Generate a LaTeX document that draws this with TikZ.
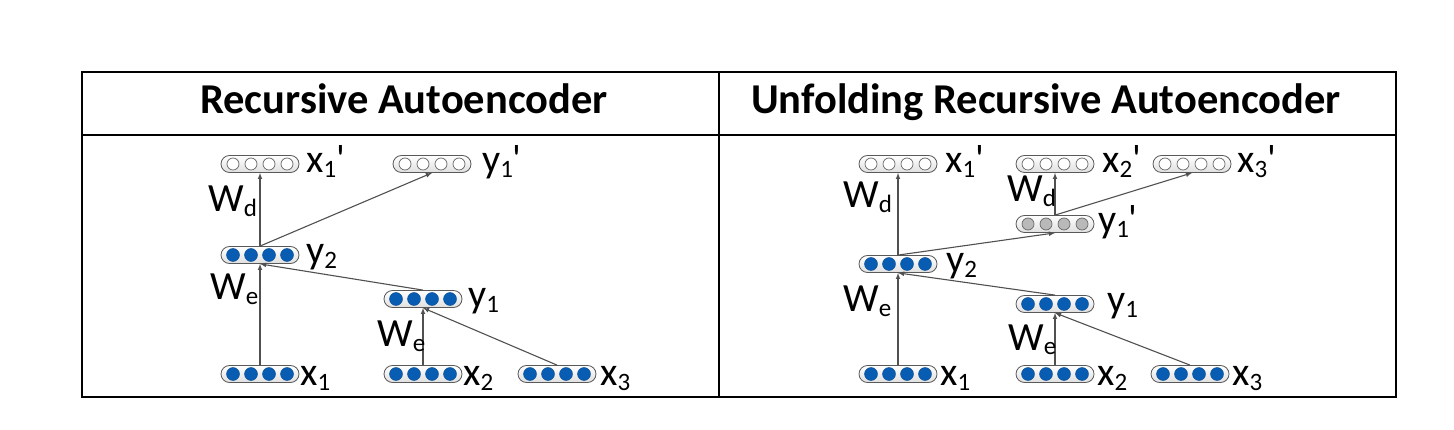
\documentclass[tikz,border=0pt]{standalone}
\usepackage{fontspec}
\setmainfont{Carlito}
\usetikzlibrary{positioning}
\definecolor{unitblue}{RGB}{8,92,178}
\definecolor{linegray}{RGB}{80,80,80}
\newcommand{\lsub}[1]{\raisebox{-5pt}{\fontsize{25}{25}\selectfont #1}}
\newcommand{\layer}[3]{%
  \node[pill] (#1) at (#2) {};
  \foreach \dx in {-27,-9,9,27}
    \node[#3] at ([xshift=\dx pt]#1.center) {};
}

\begin{document}
\begin{tikzpicture}[x=1pt,y=-1pt,>=latex,
    pill/.style={draw=gray!70!black,line width=0.8pt,rounded corners=8.5pt,minimum width=78pt,minimum height=17pt,inner sep=0pt,top color=white,bottom color=gray!25},
    hidden/.style={circle,draw=unitblue!80!black,line width=0.4pt,fill=unitblue,minimum size=13pt,inner sep=0pt},
    outunit/.style={circle,draw=gray!80!black,line width=0.7pt,fill=white,minimum size=12pt,inner sep=0pt},
    midunit/.style={circle,draw=gray!80!black,line width=0.7pt,fill=gray!55,minimum size=12pt,inner sep=0pt},
    lbl/.style={anchor=base west,inner sep=0pt,font=\fontsize{40}{44}\selectfont},
    title/.style={anchor=base,inner sep=0pt,font=\bfseries\fontsize{42.5}{46}\selectfont},
    link/.style={->,draw=linegray,line width=1.1pt}]
    \useasboundingbox (0,0) rectangle (1454,430);
    % table frame
    \draw[line width=1.2pt] (82,72) rectangle (1396,397);
    \draw[line width=1.2pt] (82,135) -- (1396,135);
    \draw[line width=1.2pt] (719,72) -- (719,397);
    \node[title] (rtitle) at (404,114) {Recursive Autoencoder};
    \node[title] (utitle) at (1046,114) {Unfolding Recursive Autoencoder};

    % recursive autoencoder
    \layer{rx1}{260,374}{hidden}
    \layer{rx2}{423,374}{hidden}
    \layer{rx3}{557,374}{hidden}
    \layer{ry1}{423,299}{hidden}
    \layer{ry2}{260,255}{hidden}
    \layer{rx1r}{260,164}{outunit}
    \layer{ry1r}{432,164}{outunit}
    \draw[link] (rx2) -- (ry1);
    \draw[link] (rx3.north) -- (ry1.south);
    \draw[link] (rx1) -- (ry2);
    \draw[link] (ry1.north) -- (ry2.south);
    \draw[link] (ry2) -- (rx1r);
    \draw[link] (ry2.north) -- (ry1r.south);
    \node[lbl] at (300,385) {x\lsub{1}};
    \node[lbl] at (463,385) {x\lsub{2}};
    \node[lbl] at (600,385) {x\lsub{3}};
    \node[lbl] at (468,308) {y\lsub{1}};
    \node[lbl] at (306,264) {y\lsub{2}};
    \node[lbl] at (306,173) {x\lsub{1}\textquotesingle};
    \node[lbl] at (482,173) {y\lsub{1}\textquotesingle};
    \node[lbl] at (208,212) {W\lsub{d}};
    \node[lbl] at (210,300) {W\lsub{e}};
    \node[lbl] at (377,347) {W\lsub{e}};

    % unfolding recursive autoencoder
    \layer{ux1}{898,374}{hidden}
    \layer{ux2}{1055,374}{hidden}
    \layer{ux3}{1190,374}{hidden}
    \layer{uy1}{1055,304}{hidden}
    \layer{uy2}{898,264}{hidden}
    \layer{uy1r}{1055,224}{midunit}
    \layer{ux1r}{898,164}{outunit}
    \layer{ux2r}{1055,164}{outunit}
    \layer{ux3r}{1192,164}{outunit}
    \draw[link] (ux2) -- (uy1);
    \draw[link] (ux3.north) -- (uy1.south);
    \draw[link] (ux1) -- (uy2);
    \draw[link] (uy1.north) -- (uy2.south);
    \draw[link] (uy2) -- (ux1r);
    \draw[link] (uy2.north) -- (uy1r.south);
    \draw[link] (uy1r) -- (ux2r);
    \draw[link] (uy1r.north) -- (ux3r.south);
    \node[lbl] at (940,385) {x\lsub{1}};
    \node[lbl] at (1097,385) {x\lsub{2}};
    \node[lbl] at (1232,385) {x\lsub{3}};
    \node[lbl] at (1107,313) {y\lsub{1}};
    \node[lbl] at (946,273) {y\lsub{2}};
    \node[lbl] at (1098,233) {y\lsub{1}\textquotesingle};
    \node[lbl] at (945,173) {x\lsub{1}\textquotesingle};
    \node[lbl] at (1102,173) {x\lsub{2}\textquotesingle};
    \node[lbl] at (1237,173) {x\lsub{3}\textquotesingle};
    \node[lbl] at (843,208) {W\lsub{d}};
    \node[lbl] at (1007,202) {W\lsub{d}};
    \node[lbl] at (843,312) {W\lsub{e}};
    \node[lbl] at (1008,350) {W\lsub{e}};
\end{tikzpicture}
\end{document}
